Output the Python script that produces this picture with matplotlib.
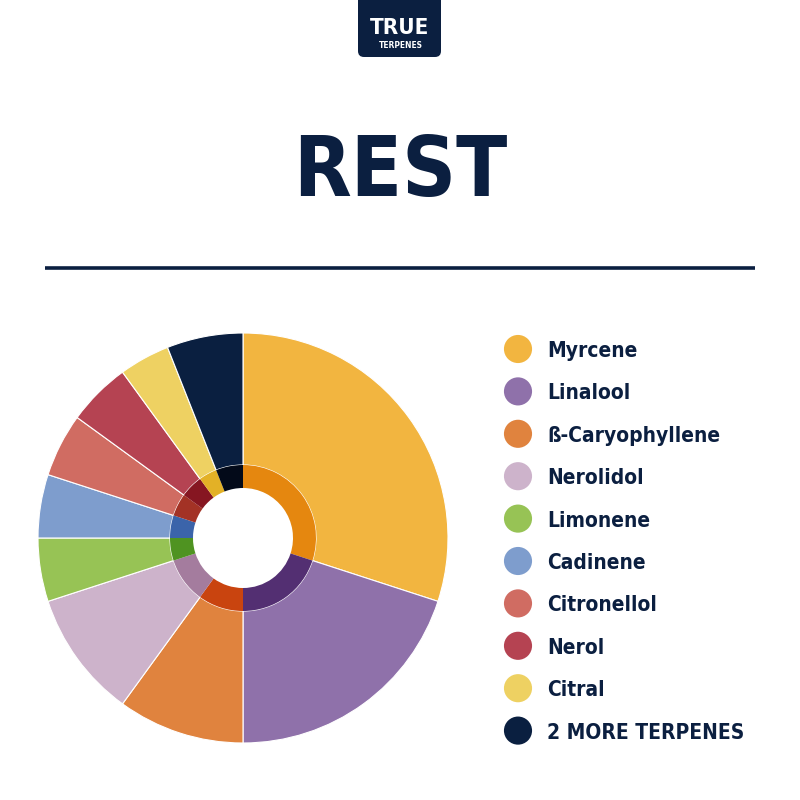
import matplotlib.pyplot as plt
from matplotlib.patches import FancyBboxPatch

navy = "#0b1f40"
title = "REST"
terpenes = ["Myrcene", "Linalool", "ß-Caryophyllene", "Nerolidol", "Limonene",
            "Cadinene", "Citronellol", "Nerol", "Citral", "2 MORE TERPENES"]
shares = [30, 20, 10, 10, 5, 5, 5, 5, 4, 6]
outer_colors = ["#f2b540", "#8f71aa", "#e0833e", "#cdb3cb", "#97c355",
                "#7e9dcd", "#d06c62", "#b54352", "#eed162", "#0a1f40"]
inner_colors = ["#e5870f", "#532f72", "#c9440f", "#a47c9e", "#4f9321",
                "#3b64aa", "#a33225", "#861621", "#e3b126", "#030a19"]

font = ["DejaVu Sans"]
txt = dict(family=font, fontweight="bold", fontstretch="condensed")

fig = plt.figure(figsize=(8, 8), dpi=100)
fig.patch.set_facecolor("white")

# overlay in pixel coordinates for header / legend
ov = fig.add_axes([0, 0, 1, 1])
ov.set_xlim(0, 800)
ov.set_ylim(800, 0)
ov.axis("off")

# logo
ov.add_patch(FancyBboxPatch((358, -20), 83, 77, boxstyle="round,pad=0,rounding_size=6",
                            facecolor=navy, edgecolor="none"))
ov.text(399.5, 34, "TRUE", color="white", fontsize=16, ha="center", va="baseline", **txt)
ov.text(401, 47.5, "TERPENES", color="white", fontsize=6, ha="center", va="baseline", **txt)

# title + rule
ov.text(400, 196, title, color=navy, fontsize=60, ha="center", va="baseline", **txt)
ov.plot([45, 755], [268, 268], color=navy, lw=2.6, solid_capstyle="butt")

# legend
for i, (name, col) in enumerate(zip(terpenes, outer_colors)):
    y = 349 + i * 42.4
    ov.scatter([518], [y], s=410, color=col, edgecolors="none")
    ov.text(547, y + 8, name, color=navy, fontsize=15, ha="left", va="baseline", **txt)

# donut
cx, cy, R = 243, 538, 205
ax = fig.add_axes([(cx - R) / 800, (800 - cy - R) / 800, 2 * R / 800, 2 * R / 800])
ax.pie(shares, colors=outer_colors, radius=1, startangle=90, counterclock=False,
       wedgeprops=dict(width=1 - 73 / R, edgecolor="white", linewidth=0.8))
ax.pie(shares, colors=inner_colors, radius=73 / R, startangle=90, counterclock=False,
       wedgeprops=dict(width=23 / R, edgecolor="none"))
ax.set_xlim(-1, 1)
ax.set_ylim(-1, 1)
ax.set_aspect("equal")
ax.axis("off")

fig.savefig("out.png", dpi=100)
